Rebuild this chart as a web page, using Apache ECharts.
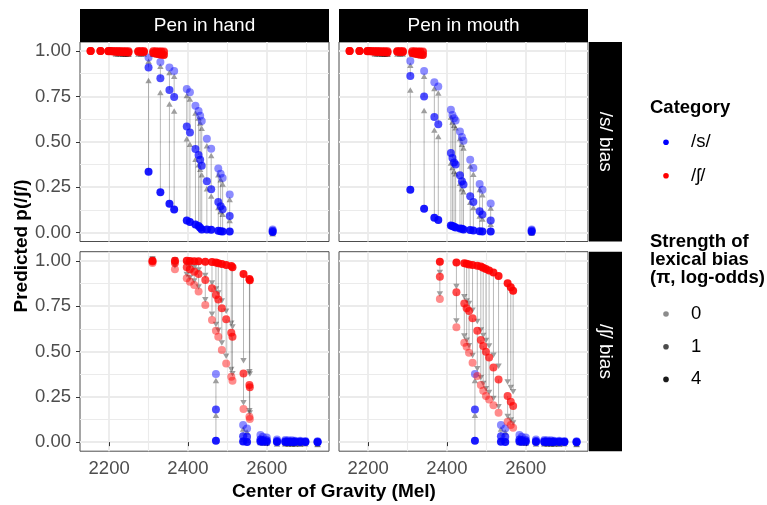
<!DOCTYPE html>
<html>
<head>
<meta charset="utf-8">
<script src="https://cdn.jsdelivr.net/npm/echarts@6/dist/echarts.min.js"></script>
<style>
  html, body { margin: 0; padding: 0; background: #fff; }
  #chart { width: 767px; height: 505px; }
</style>
</head>
<body>
<div id="chart"></div>
<script>
// Each row: [Center of Gravity (Mel), p(/ʃ/) at π=0, at π=1, at π=4]
const handSBias_s = [
  [2300, 0.965, 0.910, 0.335], [2330, 0.940, 0.850, 0.222], [2353, 0.910, 0.786, 0.158],
  [2365, 0.890, 0.747, 0.126], [2397, 0.791, 0.584, 0.066], [2405, 0.773, 0.551, 0.057],
  [2419, 0.698, 0.460, 0.044], [2427, 0.670, 0.427, 0.035], [2431, 0.643, 0.401, 0.026],
  [2435, 0.614, 0.368, 0.016], [2448, 0.516, 0.282, 0.016], [2459, 0.462, 0.238, 0.015],
  [2477, 0.352, 0.168, 0.009], [2483, 0.324, 0.145, 0.007], [2488, 0.300, 0.128, 0.005],
  [2506, 0.209, 0.090, 0.005], [2615, 0.016, 0.009, 0.002],
];
const handSBias_sh = [
  [2153, 1.000, 1.000, 1.000], [2178, 1.000, 1.000, 1.000], [2198, 1.000, 1.000, 0.999],
  [2203, 1.000, 1.000, 0.999], [2210, 1.000, 0.999, 0.998], [2217, 1.000, 0.999, 0.996],
  [2223, 1.000, 0.999, 0.995], [2229, 1.000, 0.999, 0.995], [2236, 1.000, 0.998, 0.994],
  [2242, 1.000, 0.998, 0.993], [2249, 1.000, 0.998, 0.992], [2274, 1.000, 0.999, 0.996],
  [2281, 1.000, 0.999, 0.995], [2288, 1.000, 0.999, 0.995], [2312, 1.000, 0.998, 0.990],
  [2319, 0.999, 0.997, 0.985], [2326, 0.999, 0.996, 0.982], [2332, 0.999, 0.996, 0.980],
  [2339, 0.999, 0.995, 0.978],
];
const mouthSBias_s = [
  [2307, 0.945, 0.863, 0.236], [2342, 0.890, 0.749, 0.130], [2368, 0.828, 0.636, 0.081],
  [2378, 0.804, 0.597, 0.068], [2410, 0.676, 0.438, 0.038], [2414, 0.648, 0.410, 0.035],
  [2418, 0.630, 0.386, 0.031], [2422, 0.617, 0.374, 0.027], [2433, 0.557, 0.315, 0.022],
  [2438, 0.526, 0.282, 0.020], [2442, 0.505, 0.264, 0.016], [2459, 0.401, 0.200, 0.013],
  [2467, 0.355, 0.168, 0.011], [2483, 0.267, 0.117, 0.007], [2490, 0.236, 0.099, 0.005],
  [2511, 0.159, 0.066, 0.005], [2615, 0.016, 0.011, 0.004],
];
const mouthSBias_sh = [
  [2153, 1.000, 1.000, 1.000], [2178, 1.000, 1.000, 1.000], [2198, 1.000, 1.000, 0.999],
  [2203, 1.000, 1.000, 0.999], [2210, 1.000, 0.999, 0.998], [2217, 1.000, 0.999, 0.996],
  [2223, 1.000, 0.999, 0.995], [2229, 1.000, 0.999, 0.995], [2236, 1.000, 0.998, 0.994],
  [2242, 1.000, 0.998, 0.993], [2249, 1.000, 0.998, 0.992], [2274, 1.000, 0.999, 0.996],
  [2281, 1.000, 0.999, 0.995], [2288, 1.000, 0.999, 0.995], [2312, 1.000, 0.998, 0.990],
  [2319, 0.999, 0.997, 0.985], [2326, 0.999, 0.996, 0.982], [2332, 0.999, 0.996, 0.980],
  [2339, 0.999, 0.995, 0.978],
];
const handShBias_s = [
  [2471, 0.375, 0.180, 0.007], [2540, 0.094, 0.033, 0.003], [2550, 0.075, 0.029, 0.001],
  [2584, 0.040, 0.015, 0.003], [2590, 0.030, 0.012, 0.002], [2600, 0.025, 0.010, 0.002],
  [2626, 0.015, 0.006, 0.001], [2647, 0.012, 0.005, 0.001], [2655, 0.010, 0.004, 0.001],
  [2664, 0.010, 0.004, 0.001], [2672, 0.008, 0.003, 0.001], [2685, 0.008, 0.003, 0.001],
  [2698, 0.006, 0.002, 0.001], [2729, 0.005, 0.002, 0.000],
];
const handShBias_sh = [
  [2310, 0.988, 0.996, 1.000], [2367, 0.953, 0.988, 1.000], [2397, 0.903, 0.964, 1.000],
  [2405, 0.885, 0.953, 0.999], [2416, 0.866, 0.940, 0.998], [2427, 0.830, 0.927, 0.997],
  [2444, 0.756, 0.894, 0.995], [2461, 0.673, 0.848, 0.993], [2471, 0.614, 0.811, 0.990],
  [2477, 0.581, 0.787, 0.986], [2486, 0.508, 0.738, 0.982], [2497, 0.434, 0.677, 0.977],
  [2510, 0.361, 0.603, 0.971], [2513, 0.338, 0.581, 0.964], [2541, 0.182, 0.379, 0.927],
  [2556, 0.140, 0.315, 0.900], [2557, 0.128, 0.302, 0.893],
];
const mouthShBias_s = [
  [2471, 0.375, 0.180, 0.007], [2537, 0.094, 0.033, 0.002], [2548, 0.075, 0.029, 0.001],
  [2584, 0.040, 0.015, 0.003], [2590, 0.030, 0.012, 0.002], [2600, 0.025, 0.010, 0.002],
  [2626, 0.015, 0.006, 0.001], [2647, 0.012, 0.005, 0.001], [2655, 0.010, 0.004, 0.001],
  [2664, 0.010, 0.004, 0.001], [2672, 0.008, 0.003, 0.001], [2685, 0.008, 0.003, 0.001],
  [2698, 0.006, 0.002, 0.001], [2729, 0.005, 0.002, 0.000],
];
const mouthShBias_sh = [
  [2382, 0.789, 0.912, 0.995], [2424, 0.633, 0.826, 0.990], [2444, 0.548, 0.765, 0.986],
  [2450, 0.526, 0.738, 0.984], [2456, 0.493, 0.723, 0.980], [2465, 0.438, 0.683, 0.977],
  [2477, 0.364, 0.614, 0.973], [2486, 0.315, 0.563, 0.968], [2492, 0.283, 0.530, 0.962],
  [2499, 0.254, 0.499, 0.955], [2507, 0.235, 0.467, 0.946], [2518, 0.204, 0.412, 0.936],
  [2531, 0.162, 0.346, 0.916], [2554, 0.112, 0.254, 0.876], [2562, 0.094, 0.223, 0.854],
  [2568, 0.079, 0.199, 0.835],
];

const colLabels = ['Pen in hand', 'Pen in mouth'];
const rowLabels = ['/s/ bias', '/ʃ/ bias'];
const categoryNames = ['/s/', '/ʃ/'];
const categoryColors = ['#0000ff', '#ff0000'];
const biasLevels = ['0', '1', '4'];
const biasAlpha = [0.45, 0.7, 0.9];
const xTicks = [2200, 2400, 2600];
const xMinor = [2300, 2500, 2700];
const yTicks = [0, 0.25, 0.5, 0.75, 1];
const yMinor = [0.125, 0.375, 0.625, 0.875];

const panels = [
  { s: handSBias_s, sh: handSBias_sh },
  { s: mouthSBias_s, sh: mouthSBias_sh },
  { s: handShBias_s, sh: handShBias_sh },
  { s: mouthShBias_s, sh: mouthShBias_sh },
];

const FONT = '"Liberation Sans", Arial, Helvetica, sans-serif';
const X_RANGE = [2126, 2758];
const Y_RANGE = [-0.05, 1.05];
const panelLeft = [80, 339];
const panelTop = [42, 251.7];
const panelW = 249;
const panelH = 199.5;
const GRID_COLOR = '#ebebeb';

function renderArrow(params, api) {
  const x = api.value(0);
  const from = api.coord([x, api.value(1)]);
  const to = api.coord([x, api.value(2)]);
  // arrow ends 90% of the way to the next point, like the original
  const tipY = from[1] + 0.9 * (to[1] - from[1]);
  const len = Math.abs(tipY - from[1]);
  if (len < 0.3) return null;
  const dir = tipY < from[1] ? -1 : 1;
  const headLen = 5.5;
  const half = 3.2;
  const baseY = tipY - dir * headLen;
  const children = [];
  if (len > headLen) {
    children.push({
      type: 'line',
      shape: { x1: from[0], y1: from[1], x2: from[0], y2: baseY },
      style: { stroke: 'rgba(0,0,0,0.28)', lineWidth: 1 },
    });
  }
  children.push({
    type: 'polygon',
    shape: { points: [[from[0], tipY], [from[0] - half, baseY], [from[0] + half, baseY]] },
    style: { fill: 'rgba(0,0,0,0.38)' },
  });
  return { type: 'group', children };
}

const grids = [];
const xAxes = [];
const yAxes = [];
const series = [];

panels.forEach((panel, i) => {
  const col = i % 2;
  const row = Math.floor(i / 2);
  const isBottom = row === 1;
  const isLeft = col === 0;

  grids.push({
    left: panelLeft[col], top: panelTop[row], width: panelW, height: panelH,
    show: true, borderColor: '#4d4d4d', borderWidth: 1, backgroundColor: '#fff',
  });

  xAxes.push({
    gridIndex: i, type: 'value', min: X_RANGE[0], max: X_RANGE[1],
    axisLine: { show: false },
    axisTick: { show: isBottom, customValues: xTicks, length: 4, lineStyle: { color: '#333' } },
    axisLabel: {
      show: isBottom, customValues: xTicks, margin: 8,
      color: '#4d4d4d', fontSize: 18.5, fontFamily: FONT,
      formatter: (v) => String(v),
    },
    splitLine: { show: true, lineStyle: { color: GRID_COLOR, width: 1.8 } },
  });
  xAxes.push({
    gridIndex: i, type: 'value', min: X_RANGE[0], max: X_RANGE[1],
    axisLine: { show: false },
    axisTick: { show: false, customValues: xMinor },
    axisLabel: { show: false, customValues: xMinor },
    splitLine: { show: true, lineStyle: { color: GRID_COLOR, width: 1.1 } },
  });

  yAxes.push({
    gridIndex: i, type: 'value', min: Y_RANGE[0], max: Y_RANGE[1],
    axisLine: { show: false },
    axisTick: { show: isLeft, customValues: yTicks, length: 4, lineStyle: { color: '#333' } },
    axisLabel: {
      show: isLeft, customValues: yTicks, margin: 9,
      color: '#4d4d4d', fontSize: 18.5, fontFamily: FONT,
      formatter: (v) => v.toFixed(2),
    },
    splitLine: { show: true, lineStyle: { color: GRID_COLOR, width: 1.8 } },
  });
  yAxes.push({
    gridIndex: i, type: 'value', min: Y_RANGE[0], max: Y_RANGE[1],
    axisLine: { show: false },
    axisTick: { show: false, customValues: yMinor },
    axisLabel: { show: false, customValues: yMinor },
    splitLine: { show: true, lineStyle: { color: GRID_COLOR, width: 1.1 } },
  });

  const cats = [panel.s, panel.sh];

  // arrows: π=4 -> π=1 -> π=0
  const arrows = [];
  cats.forEach((rows) => {
    rows.forEach((r) => {
      arrows.push([r[0], r[3], r[2]]);
      arrows.push([r[0], r[2], r[1]]);
    });
  });
  series.push({
    type: 'custom', xAxisIndex: 2 * i, yAxisIndex: 2 * i,
    renderItem: renderArrow, data: arrows, silent: true, z: 2,
  });

  biasLevels.forEach((lvl, li) => {
    cats.forEach((rows, ci) => {
      series.push({
        name: categoryNames[ci] + ' π=' + lvl,
        type: 'scatter', xAxisIndex: 2 * i, yAxisIndex: 2 * i,
        symbolSize: 8, silent: true, z: 3,
        itemStyle: { color: categoryColors[ci], opacity: biasAlpha[li] },
        data: rows.map((r) => [r[0], r[li + 1]]),
      });
    });
  });
});

const graphic = [];
// facet strips
colLabels.forEach((label, c) => {
  graphic.push({
    type: 'rect', shape: { x: panelLeft[c], y: 9, width: panelW, height: 33 },
    style: { fill: '#000' },
  });
  graphic.push({
    type: 'text', x: panelLeft[c] + panelW / 2, y: 25.5,
    style: { text: label, fill: '#fff', font: '19px ' + FONT, align: 'center', verticalAlign: 'middle' },
  });
});
rowLabels.forEach((label, r) => {
  graphic.push({
    type: 'rect', shape: { x: 589, y: panelTop[r], width: 33, height: panelH },
    style: { fill: '#000' },
  });
  graphic.push({
    type: 'text', x: 605.5, y: panelTop[r] + panelH / 2, rotation: -Math.PI / 2,
    style: { text: label, fill: '#fff', font: '19px ' + FONT, align: 'center', verticalAlign: 'middle' },
  });
});
// axis titles
graphic.push({
  type: 'text', x: 334, y: 492,
  style: { text: 'Center of Gravity (Mel)', fill: '#000', font: 'bold 19px ' + FONT, align: 'center', verticalAlign: 'middle' },
});
graphic.push({
  type: 'text', x: 22, y: 246, rotation: Math.PI / 2,
  style: { text: 'Predicted p(/ʃ/)', fill: '#000', font: 'bold 19px ' + FONT, align: 'center', verticalAlign: 'middle' },
});
// legends
graphic.push({
  type: 'text', x: 650, y: 108,
  style: { text: 'Category', fill: '#000', font: 'bold 18.5px ' + FONT, align: 'left', verticalAlign: 'middle' },
});
categoryNames.forEach((name, ci) => {
  const y = 142.3 + ci * 33.4;
  graphic.push({ type: 'circle', shape: { cx: 666, cy: y, r: 2.8 }, style: { fill: categoryColors[ci] } });
  graphic.push({
    type: 'text', x: 691, y,
    style: { text: name, fill: '#000', font: '18.5px ' + FONT, align: 'left', verticalAlign: 'middle' },
  });
});
['Strength of', 'lexical bias', '(π, log-odds)'].forEach((line, k) => {
  graphic.push({
    type: 'text', x: 650, y: 241.7 + k * 18.3,
    style: { text: line, fill: '#000', font: 'bold 18.5px ' + FONT, align: 'left', verticalAlign: 'middle' },
  });
});
biasLevels.forEach((lvl, li) => {
  const y = 314 + li * 32.7;
  graphic.push({ type: 'circle', shape: { cx: 666, cy: y, r: 2.8 }, style: { fill: '#000', opacity: biasAlpha[li] } });
  graphic.push({
    type: 'text', x: 691, y,
    style: { text: lvl, fill: '#000', font: '18.5px ' + FONT, align: 'left', verticalAlign: 'middle' },
  });
});

const chart = echarts.init(document.getElementById('chart'));
chart.setOption({
  animation: false,
  backgroundColor: '#fff',
  textStyle: { fontFamily: FONT },
  grid: grids,
  xAxis: xAxes,
  yAxis: yAxes,
  series,
  graphic,
});
</script>
</body>
</html>
